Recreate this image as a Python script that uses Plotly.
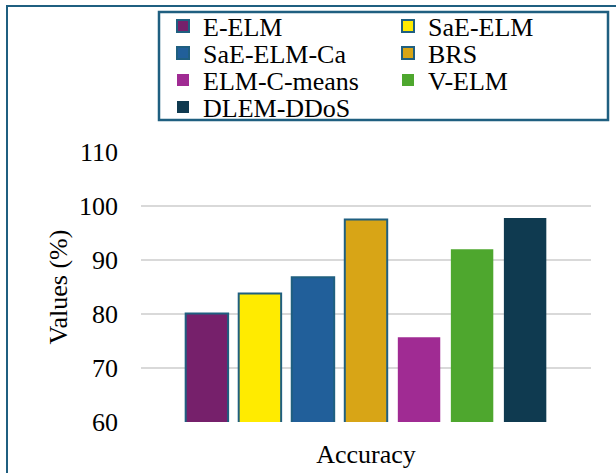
import plotly.graph_objects as go

categories = ["Accuracy"]
methods = ["E-ELM", "SaE-ELM", "SaE-ELM-Ca", "BRS", "ELM-C-means", "V-ELM", "DLEM-DDoS"]
values = [80.1, 83.8, 86.8, 97.5, 75.7, 92.0, 97.8]
colors = ["#76206B", "#FFEB00", "#215F9A", "#D8A516", "#A02B93", "#4EA72E", "#0F3A50"]
outlined = [True, True, True, True, False, False, False]
y_ticks = [60, 70, 80, 90, 100, 110]

FONT = "Liberation Serif, Times New Roman, serif"
EDGE = "#1F5F80"

L, R, T, B = 141, 25, 152, 51
W, H = 616, 473
pw, ph = W - L - R, H - T - B

def px_x(x):
    return (x - L) / pw

def px_y(y):
    return (H - B - y) / ph

# legend rows (two entries per row), one legend per row to control spacing
row_centers = [26, 53, 80, 107]
legend_names = ["legend", "legend2", "legend3", "legend4"]

fig = go.Figure()
for i, (m, v, c, o) in enumerate(zip(methods, values, colors, outlined)):
    fig.add_trace(go.Bar(
        x=categories, y=[v], name=m, legend=legend_names[i // 2],
        marker=dict(color=c, line=dict(color=EDGE if o else c, width=2 if o else 0)),
    ))

legend_common = dict(
    orientation="h", xanchor="left", yanchor="middle",
    entrywidth=180, entrywidthmode="pixels",
    bgcolor="rgba(0,0,0,0)", borderwidth=0,
    font=dict(family=FONT, size=26, color="black"),
    itemclick=False, tracegroupgap=0,
)
legend_layout = {}
for name, yc in zip(legend_names, row_centers):
    legend_layout[name] = dict(legend_common, x=px_x(163), y=px_y(yc))

fig.update_layout(
    width=W, height=H,
    margin=dict(l=L, r=R, t=T, b=B, pad=0, autoexpand=False),
    paper_bgcolor="white", plot_bgcolor="white",
    barmode="group", bargap=0.175, bargroupgap=0.2,
    font=dict(family=FONT, size=26, color="black"),
    showlegend=True,
    xaxis=dict(showgrid=False, showline=False, ticks="", tickfont=dict(size=26),
               automargin=False, ticklabelstandoff=14),
    yaxis=dict(
        range=[60, 110], tickvals=y_ticks, showgrid=True, gridcolor="#D9D9D9", gridwidth=1.5,
        zeroline=False, showline=False, ticks="", ticklabelstandoff=22, automargin=False,
        title=dict(text="Values (%)", standoff=3, font=dict(size=26)),
        tickfont=dict(size=26),
    ),
    shapes=[
        dict(type="rect", xref="paper", yref="paper",
             x0=px_x(7), x1=px_x(640), y0=px_y(500), y1=px_y(6),
             line=dict(color=EDGE, width=2), fillcolor="rgba(0,0,0,0)", layer="below"),
        dict(type="rect", xref="paper", yref="paper",
             x0=px_x(159), x1=px_x(608), y0=px_y(120), y1=px_y(12),
             line=dict(color=EDGE, width=2.5), fillcolor="white", layer="above"),
    ],
    **legend_layout,
)

fig.write_html("out.html", post_script="document.body.style.margin='0';",
               config={"displayModeBar": False})
